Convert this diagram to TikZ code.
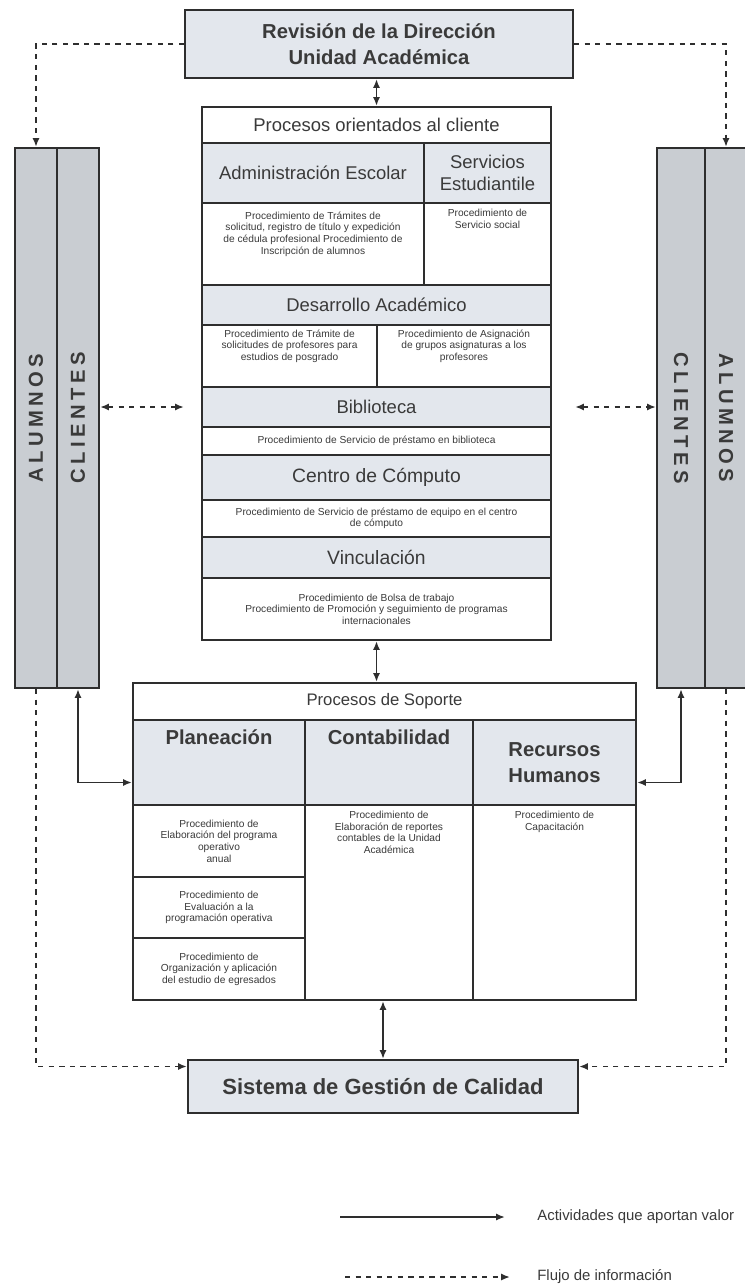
\documentclass[tikz,border=0pt]{standalone}
\usepackage{fontspec}
\setmainfont{Liberation Sans}
\newfontfamily\barfont[LetterSpace=22]{Liberation Sans}
\usetikzlibrary{positioning, arrows.meta, calc}
\definecolor{hdrfill}{HTML}{E3E7ED}
\definecolor{barfill}{HTML}{C9CDD2}
\definecolor{lncol}{HTML}{2E2E2E}
\definecolor{txtcol}{HTML}{3A3A3A}

\begin{document}
\begin{tikzpicture}[x=0.2mm, y=-0.2mm,
  box/.style={draw=lncol, line width=1.2pt, inner sep=2pt, align=center, text=txtcol},
  hdr/.style={box, fill=hdrfill, font=\fontsize{10.5}{12.5}\selectfont},
  ttl/.style={box, fill=white, font=\fontsize{10.5}{12.5}\selectfont},
  bighdr/.style={box, fill=hdrfill, font=\fontsize{11.5}{15}\selectfont\bfseries},
  proc/.style={box, fill=white, font=\fontsize{5.8}{6.6}\selectfont},
  proclbl/.style={anchor=north, align=center, text=txtcol, inner sep=4pt,
                  font=\fontsize{5.8}{6.6}\selectfont},
  toptext/.style={label={[proclbl]north:{#1}}},
  bar/.style={draw=lncol, line width=1.2pt, fill=barfill, minimum height=10.8cm},
  bartxt/.style={text=txtcol, font=\barfont\fontsize{11.5}{12}\selectfont\bfseries},
  arr/.style={{Latex[length=5pt,width=4pt]}-{Latex[length=5pt,width=4pt]}, line width=1pt, draw=lncol},
  darr/.style={{Latex[length=5pt,width=4pt]}-{Latex[length=5pt,width=4pt]}, line width=1pt, draw=lncol, dashed},
  dflow/.style={-{Latex[length=5pt,width=4pt]}, line width=1pt, draw=lncol, dashed},
  legarr/.style={-{Latex[length=5pt,width=4pt]}, line width=1pt, draw=lncol},
  legtxt/.style={anchor=west, inner sep=0pt, text=txtcol, font=\fontsize{8.5}{10}\selectfont},
]
\useasboundingbox (0,0) rectangle (744,1285);

% ---- Revision de la Direccion (top) ----
\node[bighdr, minimum width=7.76cm, minimum height=1.36cm] (rev) at (379,44)
  {Revisión de la Dirección\\Unidad Académica};

% ---- Procesos orientados al cliente ----
\node[ttl, minimum width=6.98cm, minimum height=0.72cm] (ptitle) at (376.5,125) {Procesos orientados al cliente};
\node[hdr, minimum width=4.44cm, minimum height=1.2cm] (hadm) at (313,173) {Administración Escolar};
\node[hdr, minimum width=2.54cm, minimum height=1.2cm] (hser) at (487.5,173) {Servicios\\Estudiantile};
\node[proc, minimum width=4.44cm, minimum height=1.64cm] (padm) at (313,244)
  {Procedimiento de Trámites de\\solicitud, registro de título y expedición\\de cédula profesional Procedimiento de\\Inscripción de alumnos\\[6pt]};
\node[proc, minimum width=2.54cm, minimum height=1.64cm,
      toptext={Procedimiento de\\Servicio social}] (pser) at (487.5,244) {};
\node[hdr, minimum width=6.98cm, minimum height=0.8cm] (hdes) at (376.5,305) {Desarrollo Académico};
\node[proc, minimum width=3.5cm, minimum height=1.24cm] (pdes1) at (289.5,356)
  {Procedimiento de Trámite de\\solicitudes de profesores para\\estudios de posgrado\\[6pt]};
\node[proc, minimum width=3.48cm, minimum height=1.24cm] (pdes2) at (464,356)
  {Procedimiento de Asignación\\de grupos asignaturas a los\\profesores\\[6pt]};
\node[hdr, minimum width=6.98cm, minimum height=0.8cm] (hbib) at (376.5,407) {Biblioteca};
\node[proc, minimum width=6.98cm, minimum height=0.56cm] (pbib) at (376.5,441)
  {Procedimiento de Servicio de préstamo en biblioteca};
\node[hdr, minimum width=6.98cm, minimum height=0.9cm, font=\fontsize{11}{13}\selectfont] (hcom) at (376.5,477.5) {Centro de Cómputo};
\node[proc, minimum width=6.98cm, minimum height=0.74cm] (pcom) at (376.5,518.5)
  {Procedimiento de Servicio de préstamo de equipo en el centro\\de cómputo};
\node[hdr, minimum width=6.98cm, minimum height=0.82cm, font=\fontsize{11}{13}\selectfont] (hvin) at (376.5,557.5) {Vinculación};
\node[proc, minimum width=6.98cm, minimum height=1.24cm] (pvin) at (376.5,609)
  {Procedimiento de Bolsa de trabajo\\Procedimiento de Promoción y seguimiento de programas\\internacionales};

% ---- Procesos de Soporte ----
\node[ttl, minimum width=10.06cm, minimum height=0.74cm, font=\fontsize{9.5}{11}\selectfont] (stitle) at (384.5,701.5) {Procesos de Soporte};
\node[bighdr, minimum width=3.44cm, minimum height=1.7cm] (hpla) at (219,762.5) {Planeación\\[14pt]};
\node[bighdr, minimum width=3.36cm, minimum height=1.7cm] (hcon) at (389,762.5) {Contabilidad\\[14pt]};
\node[bighdr, minimum width=3.26cm, minimum height=1.7cm] (hrec) at (554.5,762.5) {Recursos\\Humanos};
\node[proc, minimum width=3.44cm, minimum height=1.44cm] (ppla1) at (219,841)
  {Procedimiento de\\Elaboración del programa\\operativo\\anual};
\node[proc, minimum width=3.44cm, minimum height=1.22cm] (ppla2) at (219,907.5)
  {Procedimiento de\\Evaluación a la\\programación operativa};
\node[proc, minimum width=3.44cm, minimum height=1.24cm] (ppla3) at (219,969)
  {Procedimiento de\\Organización y aplicación\\del estudio de egresados};
\node[proc, minimum width=3.36cm, minimum height=3.9cm,
      toptext={Procedimiento de\\Elaboración de reportes\\contables de la Unidad\\Académica}] (pcon) at (389,902.5) {};
\node[proc, minimum width=3.26cm, minimum height=3.9cm,
      toptext={Procedimiento de\\Capacitación}] (prec) at (554.5,902.5) {};

% ---- Sistema de Gestion de Calidad ----
\node[box, fill=hdrfill, minimum width=7.8cm, minimum height=1.06cm,
      font=\fontsize{12.5}{15}\selectfont\bfseries] (sgc) at (383,1086.5) {Sistema de Gestión de Calidad};

% ---- Side bars ----
\node[bar, minimum width=0.84cm] (lalu) at (36,418) {};
\node[bar, minimum width=0.84cm] (lcli) at (78,418) {};
\node[bar, minimum width=0.96cm] (rcli) at (681,418) {};
\node[bar, minimum width=0.84cm] (ralu) at (726,418) {};
\node[bartxt, rotate=90] (laluT) at (lalu) {ALUMNOS};
\node[bartxt, rotate=90] (lcliT) at (lcli) {CLIENTES};
\node[bartxt, rotate=-90] (rcliT) at (rcli) {CLIENTES};
\node[bartxt, rotate=-90] (raluT) at (ralu) {ALUMNOS};

% ---- Solid connectors ----
\draw[arr] (rev.south -| ptitle.north) -- (ptitle.north);
\draw[arr] (pvin.south) -- (pvin.south |- stitle.north);
\draw[arr] (sgc.north |- pcon.south) -- (sgc.north);
\draw[arr] (lcli.south) |- ([yshift=-0.4cm]hpla.west);
\draw[arr] (rcli.south) |- ([yshift=-0.4cm]hrec.east);

% ---- Information flow (dashed) ----
\draw[dflow] (rev.west) -| (lalu.north);
\draw[dflow] (rev.east) -| (ralu.north);
\draw[darr] (lcli.east |- hbib.west) -- ([xshift=-0.34cm]hbib.west);
\draw[darr] ([xshift=0.46cm]hbib.east) -- (rcli.west |- hbib.east);
\draw[dflow] (lalu.south) |- ([yshift=0.4cm]sgc.west);
\draw[dflow] (ralu.south) |- ([yshift=0.4cm]sgc.east);

% ---- Legend ----
\node[legtxt] (lgval) at (537,1217) {Actividades que aportan valor};
\node[legtxt] (lginf) at (537,1277) {Flujo de información};
\coordinate (lgvalS) at (340,1217);
\coordinate (lginfS) at (345,1277);
\draw[legarr] (lgvalS) -- ([xshift=-0.64cm]lgval.west);
\draw[legarr, dashed] (lginfS) -- ([xshift=-0.54cm]lginf.west);

\end{tikzpicture}
\end{document}
